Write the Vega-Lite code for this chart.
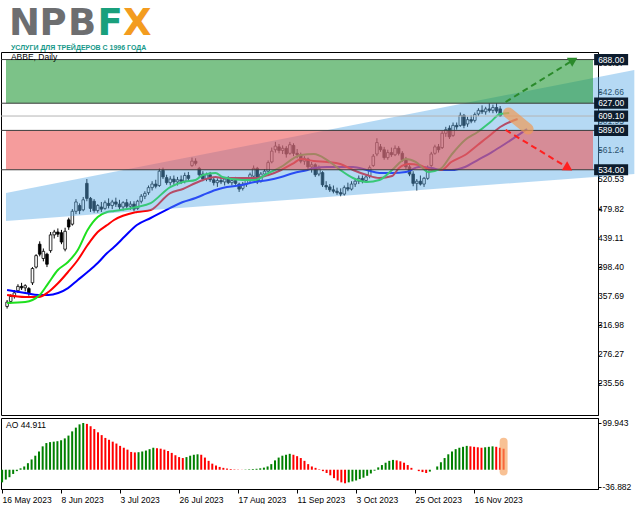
{
"$schema": "https://vega.github.io/schema/vega-lite/v6.json",
"padding": {"left": 0, "top": 4, "right": 0, "bottom": 0},
"spacing": 1,
"background": "white",
"config": {"view": {"stroke": "black", "strokeWidth": 1}, "font": "Liberation Sans", "axis": {"title": null, "grid": false}},
"datasets": {
"candles": [
{"i":0,"o":343,"h":352,"l":340,"c":349},{"i":1,"o":350,"h":360,"l":347,"c":357},{"i":2,"o":357,"h":366,"l":354,"c":362},{"i":3,"o":365,"h":374,"l":362,"c":371},{"i":4,"o":371,"h":376,"l":366,"c":369},{"i":5,"o":369,"h":374,"l":364,"c":372},{"i":6,"o":368,"h":370,"l":358,"c":362},{"i":7,"o":376,"h":398,"l":373,"c":396},{"i":8,"o":398,"h":416,"l":396,"c":414},{"i":9,"o":430,"h":434,"l":413,"c":416},
{"i":10,"o":410,"h":424,"l":406,"c":420},{"i":11,"o":416,"h":418,"l":398,"c":402},{"i":12,"o":421,"h":447,"l":418,"c":443},{"i":13,"o":443,"h":450,"l":438,"c":447},{"i":14,"o":447,"h":452,"l":440,"c":444},{"i":15,"o":446,"h":450,"l":430,"c":433},{"i":16,"o":423,"h":453,"l":420,"c":448},{"i":17,"o":464,"h":467,"l":450,"c":454},{"i":18,"o":458,"h":479,"l":456,"c":476},{"i":19,"o":476,"h":493,"l":472,"c":489},
{"i":20,"o":484,"h":487,"l":472,"c":477},{"i":21,"o":478,"h":496,"l":476,"c":492},{"i":22,"o":515,"h":521,"l":490,"c":494},{"i":23,"o":494,"h":496,"l":475,"c":480},{"i":24,"o":490,"h":493,"l":474,"c":477},{"i":25,"o":477,"h":486,"l":474,"c":484},{"i":26,"o":482,"h":489,"l":475,"c":479},{"i":27,"o":480,"h":491,"l":478,"c":488},{"i":28,"o":487,"h":494,"l":480,"c":484},{"i":29,"o":484,"h":492,"l":479,"c":489},
{"i":30,"o":489,"h":495,"l":482,"c":486},{"i":31,"o":486,"h":492,"l":478,"c":482},{"i":32,"o":482,"h":490,"l":477,"c":488},{"i":33,"o":488,"h":493,"l":480,"c":483},{"i":34,"o":483,"h":490,"l":478,"c":486},{"i":35,"o":486,"h":490,"l":476,"c":479},{"i":36,"o":480,"h":492,"l":478,"c":490},{"i":37,"o":490,"h":500,"l":487,"c":497},{"i":38,"o":497,"h":504,"l":493,"c":501},{"i":39,"o":502,"h":512,"l":499,"c":509},
{"i":40,"o":509,"h":518,"l":505,"c":514},{"i":41,"o":514,"h":520,"l":508,"c":511},{"i":42,"o":512,"h":536,"l":510,"c":532},{"i":43,"o":533,"h":537,"l":521,"c":524},{"i":44,"o":523,"h":527,"l":513,"c":516},{"i":45,"o":516,"h":525,"l":512,"c":521},{"i":46,"o":521,"h":526,"l":513,"c":517},{"i":47,"o":517,"h":524,"l":512,"c":520},{"i":48,"o":520,"h":526,"l":514,"c":518},{"i":49,"o":518,"h":530,"l":515,"c":526},
{"i":50,"o":526,"h":531,"l":518,"c":522},{"i":51,"o":540,"h":551,"l":538,"c":546},{"i":52,"o":546,"h":550,"l":540,"c":543},{"i":53,"o":536,"h":538,"l":524,"c":527},{"i":54,"o":528,"h":532,"l":518,"c":521},{"i":55,"o":521,"h":530,"l":518,"c":527},{"i":56,"o":527,"h":531,"l":517,"c":520},{"i":57,"o":520,"h":524,"l":512,"c":516},{"i":58,"o":516,"h":522,"l":510,"c":519},{"i":59,"o":519,"h":525,"l":514,"c":517},
{"i":60,"o":517,"h":523,"l":512,"c":521},{"i":61,"o":521,"h":525,"l":514,"c":516},{"i":62,"o":516,"h":522,"l":512,"c":519},{"i":63,"o":519,"h":524,"l":513,"c":515},{"i":64,"o":514,"h":516,"l":503,"c":507},{"i":65,"o":508,"h":517,"l":505,"c":514},{"i":66,"o":514,"h":522,"l":510,"c":519},{"i":67,"o":519,"h":530,"l":516,"c":527},{"i":68,"o":525,"h":540,"l":520,"c":536},{"i":69,"o":536,"h":538,"l":514,"c":517},
{"i":70,"o":518,"h":531,"l":516,"c":528},{"i":71,"o":528,"h":535,"l":524,"c":532},{"i":72,"o":532,"h":547,"l":530,"c":544},{"i":73,"o":545,"h":565,"l":543,"c":560},{"i":74,"o":562,"h":573,"l":558,"c":567},{"i":75,"o":566,"h":570,"l":557,"c":561},{"i":76,"o":561,"h":568,"l":556,"c":564},{"i":77,"o":564,"h":567,"l":551,"c":556},{"i":78,"o":557,"h":573,"l":555,"c":569},{"i":79,"o":568,"h":571,"l":553,"c":557},
{"i":80,"o":557,"h":563,"l":550,"c":555},{"i":81,"o":555,"h":558,"l":543,"c":546},{"i":82,"o":546,"h":553,"l":541,"c":550},{"i":83,"o":549,"h":551,"l":535,"c":538},{"i":84,"o":538,"h":545,"l":530,"c":541},{"i":85,"o":541,"h":543,"l":524,"c":527},{"i":86,"o":528,"h":540,"l":525,"c":536},{"i":87,"o":530,"h":532,"l":510,"c":513},{"i":88,"o":512,"h":518,"l":506,"c":510},{"i":89,"o":510,"h":514,"l":503,"c":506},
{"i":90,"o":506,"h":512,"l":501,"c":504},{"i":91,"o":504,"h":509,"l":499,"c":502},{"i":92,"o":502,"h":508,"l":497,"c":500},{"i":93,"o":500,"h":512,"l":498,"c":509},{"i":94,"o":509,"h":516,"l":504,"c":507},{"i":95,"o":507,"h":518,"l":505,"c":514},{"i":96,"o":514,"h":522,"l":510,"c":518},{"i":97,"o":518,"h":526,"l":514,"c":522},{"i":98,"o":522,"h":526,"l":515,"c":519},{"i":99,"o":519,"h":527,"l":516,"c":524},
{"i":100,"o":525,"h":540,"l":522,"c":537},{"i":101,"o":540,"h":556,"l":538,"c":553},{"i":102,"o":556,"h":578,"l":553,"c":572},{"i":103,"o":566,"h":570,"l":559,"c":562},{"i":104,"o":562,"h":566,"l":548,"c":551},{"i":105,"o":551,"h":562,"l":548,"c":558},{"i":106,"o":558,"h":565,"l":552,"c":555},{"i":107,"o":555,"h":568,"l":553,"c":564},{"i":108,"o":564,"h":567,"l":554,"c":557},{"i":109,"o":557,"h":560,"l":545,"c":548},
{"i":110,"o":548,"h":552,"l":535,"c":538},{"i":111,"o":538,"h":542,"l":525,"c":528},{"i":112,"o":528,"h":532,"l":511,"c":515},{"i":113,"o":515,"h":521,"l":505,"c":518},{"i":114,"o":518,"h":526,"l":512,"c":514},{"i":115,"o":514,"h":524,"l":510,"c":522},{"i":116,"o":522,"h":540,"l":520,"c":536},{"i":117,"o":540,"h":559,"l":538,"c":556},{"i":118,"o":557,"h":569,"l":555,"c":566},{"i":119,"o":566,"h":570,"l":558,"c":562},
{"i":120,"o":565,"h":588,"l":563,"c":585},{"i":121,"o":585,"h":594,"l":580,"c":590},{"i":122,"o":592,"h":596,"l":577,"c":580},{"i":123,"o":582,"h":600,"l":580,"c":596},{"i":124,"o":596,"h":600,"l":590,"c":594},{"i":125,"o":596,"h":614,"l":594,"c":610},{"i":126,"o":610,"h":612,"l":592,"c":596},{"i":127,"o":598,"h":608,"l":594,"c":604},{"i":128,"o":604,"h":610,"l":599,"c":602},{"i":129,"o":603,"h":614,"l":600,"c":611},
{"i":130,"o":612,"h":620,"l":609,"c":617},{"i":131,"o":617,"h":624,"l":612,"c":615},{"i":132,"o":615,"h":622,"l":611,"c":619},{"i":133,"o":619,"h":627,"l":614,"c":617},{"i":134,"o":617,"h":625,"l":613,"c":621},{"i":135,"o":621,"h":627,"l":613,"c":616},{"i":136,"o":619,"h":623,"l":608,"c":609.1}
],
"ma": [
{"s":"lips","i":0,"v":347.8},{"s":"lips","i":5,"v":349.2},{"s":"lips","i":9,"v":359},{"s":"lips","i":11.4,"v":375.7},{"s":"lips","i":14,"v":393.9},{"s":"lips","i":16.8,"v":405.1},{"s":"lips","i":19.5,"v":421.9},{"s":"lips","i":22.2,"v":449.8},{"s":"lips","i":25,"v":468},{"s":"lips","i":27.6,"v":475},{"s":"lips","i":29.5,"v":476.4},{"s":"lips","i":35.8,"v":482},{"s":"lips","i":39.6,"v":487.5},{"s":"lips","i":45,"v":509.9},{"s":"lips","i":48.5,"v":516.9},{"s":"lips","i":52,"v":519.7},{"s":"lips","i":54,"v":526.7},{"s":"lips","i":57.5,"v":529.5},{"s":"lips","i":59.4,"v":523.9},{"s":"lips","i":64.8,"v":519.7},{"s":"lips","i":68.3,"v":519.7},{"s":"lips","i":72.1,"v":529.5},{"s":"lips","i":75.6,"v":537.9},{"s":"lips","i":79.1,"v":550.4},{"s":"lips","i":81,"v":554.6},{"s":"lips","i":84.6,"v":556},{"s":"lips","i":88.3,"v":547.6},{"s":"lips","i":91.9,"v":533.7},{"s":"lips","i":95.4,"v":522.5},{"s":"lips","i":99.2,"v":516.9},{"s":"lips","i":102.7,"v":519.7},{"s":"lips","i":106.2,"v":533.7},{"s":"lips","i":110,"v":549},{"s":"lips","i":112.8,"v":544.8},{"s":"lips","i":116.3,"v":530.9},{"s":"lips","i":119.5,"v":535.1},{"s":"lips","i":122.5,"v":554.6},{"s":"lips","i":126.3,"v":575.6},{"s":"lips","i":129.8,"v":586.8},{"s":"lips","i":133.3,"v":600.7},{"s":"lips","i":136,"v":611.9},{"s":"lips","i":138.5,"v":613.3},
{"s":"teeth","i":0,"v":359},{"s":"teeth","i":5,"v":356.2},{"s":"teeth","i":8.7,"v":356.2},{"s":"teeth","i":11.4,"v":363.2},{"s":"teeth","i":14.1,"v":375.7},{"s":"teeth","i":16.8,"v":391.1},{"s":"teeth","i":19.5,"v":407.9},{"s":"teeth","i":22.2,"v":428.8},{"s":"teeth","i":25,"v":447},{"s":"teeth","i":27.6,"v":456.8},{"s":"teeth","i":29.5,"v":463.8},{"s":"teeth","i":35.8,"v":475},{"s":"teeth","i":39.6,"v":477.8},{"s":"teeth","i":45,"v":501.5},{"s":"teeth","i":48.5,"v":507.1},{"s":"teeth","i":52,"v":515.5},{"s":"teeth","i":54,"v":519.7},{"s":"teeth","i":57.5,"v":523.9},{"s":"teeth","i":59.4,"v":522.5},{"s":"teeth","i":64.8,"v":522.5},{"s":"teeth","i":68.3,"v":522.5},{"s":"teeth","i":72.1,"v":526.7},{"s":"teeth","i":75.6,"v":533.7},{"s":"teeth","i":79.1,"v":543.4},{"s":"teeth","i":81,"v":549},{"s":"teeth","i":84.6,"v":546.2},{"s":"teeth","i":88.3,"v":544.8},{"s":"teeth","i":91.9,"v":542},{"s":"teeth","i":95.4,"v":533.7},{"s":"teeth","i":99.2,"v":526.7},{"s":"teeth","i":102.7,"v":522.5},{"s":"teeth","i":106.2,"v":525.3},{"s":"teeth","i":108.1,"v":536.5},{"s":"teeth","i":110.8,"v":542},{"s":"teeth","i":113.6,"v":540.6},{"s":"teeth","i":117.1,"v":533.7},{"s":"teeth","i":119.8,"v":533.7},{"s":"teeth","i":122.5,"v":544.8},{"s":"teeth","i":126.3,"v":554.6},{"s":"teeth","i":129.8,"v":568.6},{"s":"teeth","i":133.3,"v":582.6},{"s":"teeth","i":136,"v":593.7},{"s":"teeth","i":140.8,"v":604.9},
{"s":"jaw","i":0,"v":366},{"s":"jaw","i":5,"v":361.8},{"s":"jaw","i":8.7,"v":359},{"s":"jaw","i":11.4,"v":359},{"s":"jaw","i":14.1,"v":361.8},{"s":"jaw","i":16.8,"v":368.7},{"s":"jaw","i":19.5,"v":379.9},{"s":"jaw","i":22.2,"v":391.1},{"s":"jaw","i":25,"v":403.7},{"s":"jaw","i":27.6,"v":417.7},{"s":"jaw","i":29.5,"v":426},{"s":"jaw","i":32.5,"v":441},{"s":"jaw","i":35.8,"v":456.8},{"s":"jaw","i":39.6,"v":466.6},{"s":"jaw","i":45,"v":480.6},{"s":"jaw","i":48.5,"v":488.9},{"s":"jaw","i":52,"v":494.5},{"s":"jaw","i":54,"v":498.7},{"s":"jaw","i":57.5,"v":505.7},{"s":"jaw","i":59.4,"v":508.5},{"s":"jaw","i":64.8,"v":512.7},{"s":"jaw","i":68.3,"v":516.9},{"s":"jaw","i":72.1,"v":519.7},{"s":"jaw","i":75.6,"v":523.9},{"s":"jaw","i":79.1,"v":529.5},{"s":"jaw","i":82.9,"v":533.7},{"s":"jaw","i":84.6,"v":536.5},{"s":"jaw","i":88.3,"v":537.9},{"s":"jaw","i":91.9,"v":537.9},{"s":"jaw","i":95.4,"v":537.9},{"s":"jaw","i":99.2,"v":533.7},{"s":"jaw","i":102.7,"v":529.5},{"s":"jaw","i":106.2,"v":529.5},{"s":"jaw","i":110,"v":530.9},{"s":"jaw","i":113.6,"v":537.9},{"s":"jaw","i":117.1,"v":536.5},{"s":"jaw","i":119.8,"v":533.7},{"s":"jaw","i":122.5,"v":533.7},{"s":"jaw","i":126.3,"v":537.9},{"s":"jaw","i":129.8,"v":547.6},{"s":"jaw","i":133.3,"v":557.4},{"s":"jaw","i":136,"v":565.8},{"s":"jaw","i":143.4,"v":590.9}
],
"ao": [
{"i":0,"v":-27,"d":"up"},{"i":1,"v":-21,"d":"up"},{"i":2,"v":-16,"d":"up"},{"i":3,"v":-9,"d":"up"},{"i":4,"v":-3,"d":"up"},{"i":5,"v":3,"d":"up"},{"i":6,"v":7,"d":"up"},{"i":7,"v":14,"d":"up"},{"i":8,"v":22,"d":"up"},{"i":9,"v":30,"d":"up"},
{"i":10,"v":39,"d":"up"},{"i":11,"v":50,"d":"up"},{"i":12,"v":57,"d":"up"},{"i":13,"v":59,"d":"up"},{"i":14,"v":60,"d":"up"},{"i":15,"v":61,"d":"up"},{"i":16,"v":63,"d":"up"},{"i":17,"v":67,"d":"up"},{"i":18,"v":73,"d":"up"},{"i":19,"v":82,"d":"up"},
{"i":20,"v":90,"d":"up"},{"i":21,"v":97,"d":"up"},{"i":22,"v":99.9,"d":"up"},{"i":23,"v":98,"d":"dn"},{"i":24,"v":93,"d":"dn"},{"i":25,"v":87,"d":"dn"},{"i":26,"v":80,"d":"dn"},{"i":27,"v":74,"d":"dn"},{"i":28,"v":68,"d":"dn"},{"i":29,"v":64,"d":"dn"},
{"i":30,"v":60,"d":"dn"},{"i":31,"v":56,"d":"dn"},{"i":32,"v":51,"d":"dn"},{"i":33,"v":47,"d":"dn"},{"i":34,"v":43,"d":"dn"},{"i":35,"v":38,"d":"dn"},{"i":36,"v":37,"d":"dn"},{"i":37,"v":37.5,"d":"up"},{"i":38,"v":39,"d":"up"},{"i":39,"v":41,"d":"up"},
{"i":40,"v":44,"d":"up"},{"i":41,"v":47,"d":"up"},{"i":42,"v":46,"d":"dn"},{"i":43,"v":45,"d":"dn"},{"i":44,"v":43,"d":"dn"},{"i":45,"v":40,"d":"dn"},{"i":46,"v":36,"d":"dn"},{"i":47,"v":31,"d":"dn"},{"i":48,"v":27,"d":"dn"},{"i":49,"v":25,"d":"dn"},
{"i":50,"v":27,"d":"up"},{"i":51,"v":30,"d":"up"},{"i":52,"v":32,"d":"up"},{"i":53,"v":33,"d":"up"},{"i":54,"v":32,"d":"dn"},{"i":55,"v":26,"d":"dn"},{"i":56,"v":19,"d":"dn"},{"i":57,"v":13,"d":"dn"},{"i":58,"v":9,"d":"dn"},{"i":59,"v":6,"d":"dn"},
{"i":60,"v":4,"d":"dn"},{"i":61,"v":2.5,"d":"dn"},{"i":62,"v":1.5,"d":"dn"},{"i":63,"v":0.8,"d":"dn"},{"i":64,"v":0.5,"d":"dn"},{"i":65,"v":0.3,"d":"dn"},{"i":66,"v":0.6,"d":"up"},{"i":67,"v":1,"d":"up"},{"i":68,"v":1.5,"d":"up"},{"i":69,"v":2,"d":"up"},
{"i":70,"v":3,"d":"up"},{"i":71,"v":4.5,"d":"up"},{"i":72,"v":7,"d":"up"},{"i":73,"v":12,"d":"up"},{"i":74,"v":20,"d":"up"},{"i":75,"v":26,"d":"up"},{"i":76,"v":30,"d":"up"},{"i":77,"v":32,"d":"up"},{"i":78,"v":34,"d":"up"},{"i":79,"v":32,"d":"dn"},
{"i":80,"v":29,"d":"dn"},{"i":81,"v":25,"d":"dn"},{"i":82,"v":19,"d":"dn"},{"i":83,"v":12,"d":"dn"},{"i":84,"v":7,"d":"dn"},{"i":85,"v":4,"d":"dn"},{"i":86,"v":1,"d":"dn"},{"i":87,"v":-3,"d":"dn"},{"i":88,"v":-7,"d":"dn"},{"i":89,"v":-12,"d":"dn"},
{"i":90,"v":-18,"d":"dn"},{"i":91,"v":-23,"d":"dn"},{"i":92,"v":-27,"d":"dn"},{"i":93,"v":-29,"d":"dn"},{"i":94,"v":-27,"d":"up"},{"i":95,"v":-25,"d":"up"},{"i":96,"v":-23,"d":"up"},{"i":97,"v":-20,"d":"up"},{"i":98,"v":-17,"d":"up"},{"i":99,"v":-13,"d":"up"},
{"i":100,"v":-8,"d":"up"},{"i":101,"v":-2,"d":"up"},{"i":102,"v":5,"d":"up"},{"i":103,"v":10,"d":"up"},{"i":104,"v":15,"d":"up"},{"i":105,"v":19,"d":"up"},{"i":106,"v":21,"d":"up"},{"i":107,"v":20,"d":"dn"},{"i":108,"v":18,"d":"dn"},{"i":109,"v":15,"d":"dn"},
{"i":110,"v":10,"d":"dn"},{"i":111,"v":4,"d":"dn"},{"i":112,"v":0,"d":"dn"},{"i":113,"v":-3,"d":"dn"},{"i":114,"v":-5,"d":"dn"},{"i":115,"v":-7,"d":"dn"},{"i":116,"v":-4,"d":"up"},{"i":117,"v":0,"d":"up"},{"i":118,"v":7,"d":"up"},{"i":119,"v":16,"d":"up"},
{"i":120,"v":25,"d":"up"},{"i":121,"v":33,"d":"up"},{"i":122,"v":39,"d":"up"},{"i":123,"v":44,"d":"up"},{"i":124,"v":47,"d":"up"},{"i":125,"v":49,"d":"up"},{"i":126,"v":51,"d":"up"},{"i":127,"v":50,"d":"dn"},{"i":128,"v":49,"d":"dn"},{"i":129,"v":48,"d":"dn"},
{"i":130,"v":47,"d":"dn"},{"i":131,"v":48,"d":"up"},{"i":132,"v":49,"d":"up"},{"i":133,"v":50,"d":"up"},{"i":134,"v":49,"d":"dn"},{"i":135,"v":47,"d":"dn"},{"i":136,"v":44.911,"d":"dn"}
],
"zones": [{"z":"buy","from":627,"to":688},{"z":"sell","from":534,"to":589}],
"levels": [{"lv":688,"t":"688.00","k":"line"},{"lv":627,"t":"627.00","k":"line"},{"lv":609.1,"t":"609.10","k":"bid"},{"lv":589,"t":"589.00","k":"line"},{"lv":534,"t":"534.00","k":"line"}],
"priceTicks": [{"v":235.56,"t":"235.56"},{"v":276.27,"t":"276.27"},{"v":316.98,"t":"316.98"},{"v":357.69,"t":"357.69"},{"v":398.40,"t":"398.40"},{"v":439.11,"t":"439.11"},{"v":479.82,"t":"479.82"},{"v":520.53,"t":"520.53"},{"v":561.24,"t":"561.24"},{"v":601.95,"t":"601.95"},{"v":642.66,"t":"642.66"},{"v":683.37,"t":"683.37"}],
"channel": [{"i":-0.3,"lo":462.4,"hi":501.5},{"i":173,"lo":528.1,"hi":673.4}],
"arrows": [{"a":"up","i":137.5,"p":628.7},{"a":"up","i":156.2,"p":687.4},{"a":"dn","i":137.5,"p":589.6},{"a":"dn","i":154.8,"p":536.4}],
"blob": [{"i":138.3,"p":613.3},{"i":143.7,"p":590.9}],
"aohl": [{"i":136,"v":60},{"i":136,"v":-4}],
"symbolTxt": [{"t":"ABBE, Daily"}],
"logoGray": [{"t":"N","i":0.514},{"t":"P","i":8.92},{"t":"B","i":16.78}],
"logoF": [{"t":"F"}],
"logoX": [{"t":"X"}],
"logoSub": [{"t":"УСЛУГИ ДЛЯ ТРЕЙДЕРОВ С 1996 ГОДА"}],
"aoTxt": [{"t":"AO 44.911"}]
},
"vconcat": [
{
"width": 597, "height": 363,
"layer": [
{"data": {"name": "candles"}, "mark": {"type": "rule", "color": "black", "strokeWidth": 1},
 "encoding": {
  "x": {"field": "i", "type": "quantitative", "scale": {"domain": [-0.3, 161.6], "nice": false, "zero": false}, "axis": null},
  "y": {"field": "l", "type": "quantitative", "scale": {"domain": [191.3, 698.56], "nice": false, "zero": false},
        "axis": {"orient": "right", "values": [235.56,276.27,316.98,357.69,398.40,439.11,479.82,520.53,561.24,601.95,642.66,683.37], "labels": false, "title": null, "grid": false, "tickSize": 3, "tickColor": "black", "domainColor": "black"}},
  "y2": {"field": "h"}}},
{"data": {"name": "candles"}, "mark": {"type": "bar", "width": 2.6, "stroke": "black", "strokeWidth": 0.8},
 "encoding": {
  "x": {"field": "i", "type": "quantitative"},
  "y": {"field": "o", "type": "quantitative"},
  "y2": {"field": "c"},
  "color": {"condition": {"test": "datum.c < datum.o", "value": "black"}, "value": "white"}}},
{"data": {"name": "ma"}, "transform": [{"filter": "datum.s == 'jaw'"}], "mark": {"type": "line", "strokeWidth": 2, "interpolate": "monotone", "color": "#0000ff"},
 "encoding": {"x": {"field": "i", "type": "quantitative"}, "y": {"field": "v", "type": "quantitative"}}},
{"data": {"name": "ma"}, "transform": [{"filter": "datum.s == 'teeth'"}], "mark": {"type": "line", "strokeWidth": 2, "interpolate": "monotone", "color": "#ff0000"},
 "encoding": {"x": {"field": "i", "type": "quantitative"}, "y": {"field": "v", "type": "quantitative"}}},
{"data": {"name": "ma"}, "transform": [{"filter": "datum.s == 'lips'"}], "mark": {"type": "line", "strokeWidth": 2, "interpolate": "monotone", "color": "#1ee01e"},
 "encoding": {"x": {"field": "i", "type": "quantitative"}, "y": {"field": "v", "type": "quantitative"}}},
{"data": {"name": "priceTicks"}, "mark": {"type": "text", "color": "black", "fontSize": 8.5, "align": "left", "baseline": "middle", "font": "Liberation Sans"},
 "encoding": {"x": {"datum": 163.0, "type": "quantitative"}, "y": {"field": "v", "type": "quantitative"}, "text": {"field": "t"}}},
{"data": {"name": "channel"}, "mark": {"type": "area", "color": "#5aaae6", "opacity": 0.45},
 "encoding": {
  "x": {"field": "i", "type": "quantitative"},
  "y": {"field": "lo", "type": "quantitative"},
  "y2": {"field": "hi"}}},
{"data": {"name": "zones"}, "mark": {"type": "rect", "opacity": 0.58},
 "encoding": {
  "x": {"datum": -0.3, "type": "quantitative"},
  "x2": {"datum": 161.6},
  "y": {"field": "from", "type": "quantitative"},
  "y2": {"field": "to"},
  "color": {"condition": {"test": "datum.z == 'buy'", "value": "#1e9632"}, "value": "#ee5555"}}},
{"data": {"name": "levels"}, "transform": [{"filter": "datum.k == 'line'"}], "mark": {"type": "rule", "color": "#3a3a3a", "strokeWidth": 1},
 "encoding": {"y": {"field": "lv", "type": "quantitative"}}},
{"data": {"name": "levels"}, "transform": [{"filter": "datum.k == 'bid'"}], "mark": {"type": "rule", "color": "#b4b4b4", "strokeWidth": 1},
 "encoding": {"y": {"field": "lv", "type": "quantitative"}}},
{"data": {"name": "arrows"}, "transform": [{"filter": "datum.a == 'up'"}], "mark": {"type": "line", "strokeWidth": 2, "strokeDash": [6, 4], "color": "#2a8a2a"},
 "encoding": {"x": {"field": "i", "type": "quantitative"}, "y": {"field": "p", "type": "quantitative"}}},
{"data": {"name": "arrows"}, "transform": [{"filter": "datum.a == 'dn'"}], "mark": {"type": "line", "strokeWidth": 2, "strokeDash": [6, 4], "color": "#ff2020"},
 "encoding": {"x": {"field": "i", "type": "quantitative"}, "y": {"field": "p", "type": "quantitative"}}},
{"data": {"name": "arrows"}, "transform": [{"filter": "datum.a == 'up' && datum.i > 150"}], "mark": {"type": "point", "shape": "triangle-up", "filled": true, "size": 110, "opacity": 1, "color": "#2a8a2a", "angle": 59},
 "encoding": {"x": {"field": "i", "type": "quantitative"}, "y": {"field": "p", "type": "quantitative"}}},
{"data": {"name": "arrows"}, "transform": [{"filter": "datum.a == 'dn' && datum.i > 150"}], "mark": {"type": "point", "shape": "triangle-up", "filled": true, "size": 110, "opacity": 1, "color": "#ff2020", "angle": 121},
 "encoding": {"x": {"field": "i", "type": "quantitative"}, "y": {"field": "p", "type": "quantitative"}}},
{"data": {"name": "blob"}, "mark": {"type": "line", "strokeWidth": 11, "strokeCap": "round", "color": "#f09a55", "opacity": 0.7},
 "encoding": {"x": {"field": "i", "type": "quantitative"}, "y": {"field": "p", "type": "quantitative"}}},
{"data": {"name": "levels"}, "mark": {"type": "point", "shape": "M-1,-0.33H1V0.33H-1Z", "filled": true, "size": 1156, "opacity": 1, "color": "#0c1c2e", "strokeWidth": 0},
 "encoding": {"x": {"datum": 166.6, "type": "quantitative"}, "y": {"field": "lv", "type": "quantitative"}}},
{"data": {"name": "levels"}, "mark": {"type": "text", "color": "white", "fontSize": 8.5, "align": "center", "baseline": "middle", "font": "Liberation Sans"},
 "encoding": {"x": {"datum": 166.6, "type": "quantitative"}, "y": {"field": "lv", "type": "quantitative"}, "text": {"field": "t"}}},
{"data": {"name": "symbolTxt"}, "mark": {"type": "text", "color": "black", "fontSize": 8.5, "align": "left", "baseline": "middle", "font": "Liberation Sans"},
 "encoding": {"x": {"datum": 1.06, "type": "quantitative"}, "y": {"datum": 690.9, "type": "quantitative"}, "text": {"field": "t"}}},
{"data": {"name": "logoGray"}, "mark": {"type": "text", "color": "#6d6e70", "fontSize": 37, "fontWeight": "bold", "align": "left", "baseline": "alphabetic", "font": "DejaVu Sans"},
 "encoding": {"x": {"field": "i", "type": "quantitative"}, "y": {"datum": 722.3, "type": "quantitative"}, "text": {"field": "t"}}},
{"data": {"name": "logoF"}, "mark": {"type": "text", "color": "#19a07c", "fontSize": 37, "fontWeight": "bold", "align": "left", "baseline": "alphabetic", "font": "DejaVu Sans"},
 "encoding": {"x": {"datum": 24.92, "type": "quantitative"}, "y": {"datum": 722.3, "type": "quantitative"}, "text": {"field": "t"}}},
{"data": {"name": "logoX"}, "mark": {"type": "text", "color": "#f39c1f", "fontSize": 37, "fontWeight": "bold", "align": "left", "baseline": "alphabetic", "font": "DejaVu Sans"},
 "encoding": {"x": {"datum": 31.97, "type": "quantitative"}, "y": {"datum": 722.3, "type": "quantitative"}, "text": {"field": "t"}}},
{"data": {"name": "logoSub"}, "mark": {"type": "text", "color": "#17998a", "fontSize": 7, "fontWeight": "bold", "align": "left", "baseline": "alphabetic", "font": "Liberation Sans"},
 "encoding": {"x": {"datum": 1.06, "type": "quantitative"}, "y": {"datum": 700.9, "type": "quantitative"}, "text": {"field": "t"}}}
]
},
{
"width": 597, "height": 71,
"layer": [
{"data": {"name": "ao"}, "mark": {"type": "rule", "strokeWidth": 2},
 "encoding": {
  "x": {"field": "i", "type": "quantitative", "scale": {"domain": [-0.3, 161.6], "nice": false, "zero": false},
        "axis": {"values": [0,16,32,48,64,80,96,112,128], "labelExpr": "['16 May 2023','8 Jun 2023','3 Jul 2023','26 Jul 2023','17 Aug 2023','11 Sep 2023','3 Oct 2023','25 Oct 2023','16 Nov 2023'][round(datum.value/16)]", "title": null, "grid": false, "tickSize": 4, "tickColor": "black", "domainColor": "black", "labelAlign": "left", "labelPadding": 2, "labelFontSize": 8.5, "labelColor": "black", "labelFont": "Liberation Sans", "labelFlush": false, "labelOverlap": false}},
  "y": {"field": "v", "type": "quantitative", "scale": {"domain": [-41.2, 110.6], "nice": false, "zero": false},
        "axis": {"orient": "right", "values": [99.943, -36.882], "labelExpr": "replace(format(datum.value, '.3f'), '\u2212', '-')", "title": null, "grid": false, "tickSize": 3, "tickColor": "black", "domainColor": "black", "labelColor": "black", "labelFontSize": 8.5, "labelPadding": 1, "labelFont": "Liberation Sans", "labelOverlap": false}},
  "y2": {"datum": 0},
  "color": {"condition": {"test": "datum.d == 'up'", "value": "#008000"}, "value": "#ff0000"}}},
{"data": {"name": "aohl"}, "mark": {"type": "line", "strokeWidth": 8, "strokeCap": "round", "color": "#f5a05a", "opacity": 0.65},
 "encoding": {"x": {"field": "i", "type": "quantitative"}, "y": {"field": "v", "type": "quantitative"}}},
{"data": {"name": "aoTxt"}, "mark": {"type": "text", "color": "black", "fontSize": 8.5, "align": "left", "baseline": "middle", "font": "Liberation Sans"},
 "encoding": {"x": {"datum": 1.06, "type": "quantitative"}, "y": {"datum": 95, "type": "quantitative"}, "text": {"field": "t"}}}
]
}
]
}
